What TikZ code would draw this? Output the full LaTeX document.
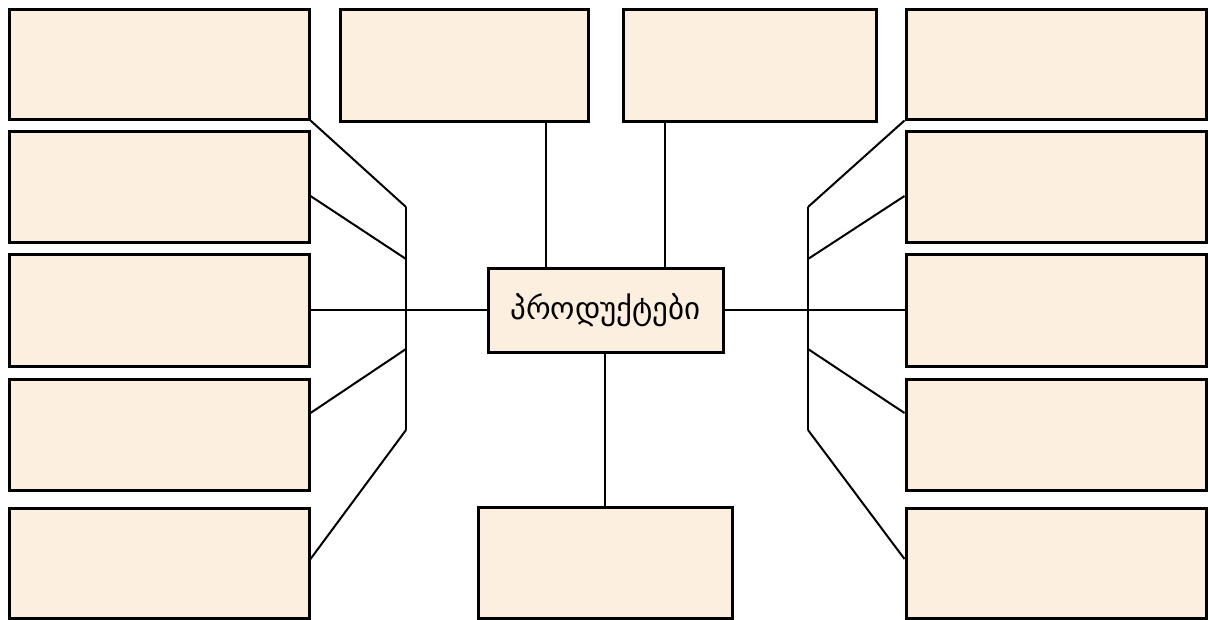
\documentclass[tikz,border=0pt]{standalone}
\usepackage{fontspec}
\newfontfamily\geo{DejaVu Sans}
\definecolor{cream}{RGB}{253,239,223}
\begin{document}
\begin{tikzpicture}[x=1pt,y=-1pt,
  box/.style={draw=black,fill=cream,line width=3pt,inner sep=0pt,rectangle},
  conn/.style={draw=black,line width=2pt}]
\useasboundingbox (0,0) rectangle (1210,619);
% left column
\node[box,minimum width=300pt,minimum height=110pt] (L1) at (159,64) {};
\node[box,minimum width=300pt,minimum height=111pt] (L2) at (159,186.5) {};
\node[box,minimum width=300pt,minimum height=112pt] (L3) at (159,310) {};
\node[box,minimum width=300pt,minimum height=111pt] (L4) at (159,434.5) {};
\node[box,minimum width=300pt,minimum height=110pt] (L5) at (159,563) {};
% right column
\node[box,minimum width=300pt,minimum height=110pt] (R1) at (1056,64) {};
\node[box,minimum width=300pt,minimum height=111pt] (R2) at (1056,186.5) {};
\node[box,minimum width=300pt,minimum height=112pt] (R3) at (1056,310) {};
\node[box,minimum width=300pt,minimum height=111pt] (R4) at (1056,434.5) {};
\node[box,minimum width=300pt,minimum height=110pt] (R5) at (1056,563) {};
% top and bottom
\node[box,minimum width=248pt,minimum height=112pt] (TA) at (464,65) {};
\node[box,minimum width=253pt,minimum height=112pt] (TB) at (749.5,65) {};
\node[box,minimum width=254pt,minimum height=111pt] (BT) at (605,562.5) {};
% center
\node[box,minimum width=235pt,minimum height=84pt,font=\geo\fontsize{31}{36}\selectfont] (C) at (605.5,310) {პროდუქტები};
% bus coordinates
\coordinate (lb1) at (406,207);
\coordinate (lb2) at (406,259);
\coordinate (lb4) at (406,349);
\coordinate (lb5) at (406,430);
\coordinate (rb1) at (808,207);
\coordinate (rb2) at (808,259);
\coordinate (rb4) at (808,349);
\coordinate (rb5) at (808,430);
% left bus
\draw[conn] (lb1) -- (lb5);
\draw[conn] (L1.south east) -- (lb1);
\draw[conn] (L2.east |- 0,196) -- (lb2);
\draw[conn] (L3.east) -- (C.west);
\draw[conn] (L4.east |- 0,413) -- (lb4);
\draw[conn] (L5.east |- 0,559) -- (lb5);
% right bus
\draw[conn] (rb1) -- (rb5);
\draw[conn] (R1.south west) -- (rb1);
\draw[conn] (R2.west |- 0,196) -- (rb2);
\draw[conn] (R3.west) -- (C.east);
\draw[conn] (R4.west |- 0,413) -- (rb4);
\draw[conn] (R5.west |- 0,559) -- (rb5);
% vertical
\draw[conn] (TA.south -| 546,0) -- (C.north -| 546,0);
\draw[conn] (TB.south -| 665,0) -- (C.north -| 665,0);
\draw[conn] (C.south -| 605,0) -- (BT.north);
\end{tikzpicture}
\end{document}
